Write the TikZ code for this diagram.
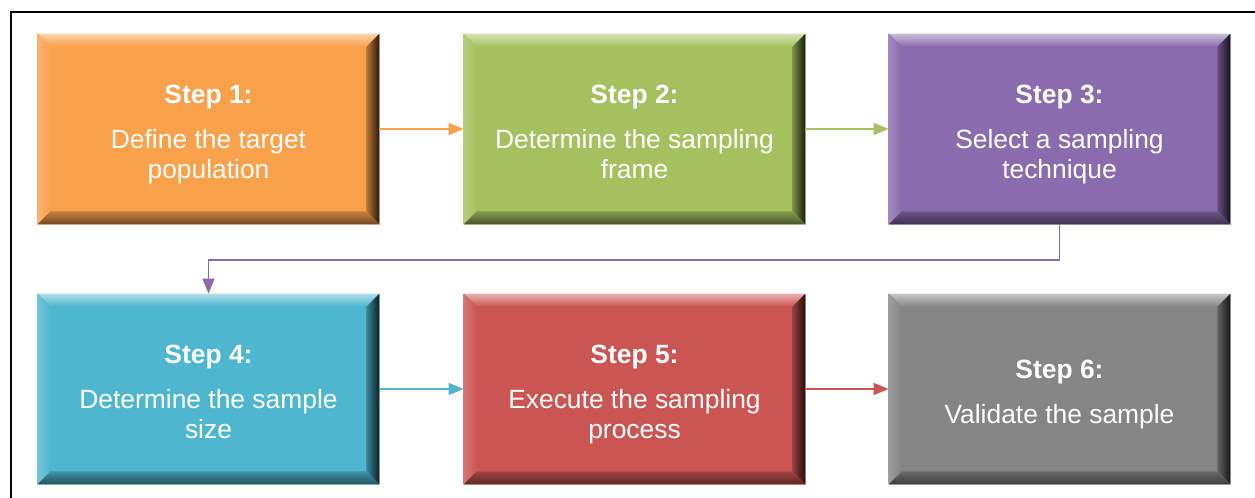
\documentclass[tikz,border=0pt]{standalone}
\usepackage{fontspec}
\setmainfont{Liberation Sans}
\usetikzlibrary{arrows.meta,calc}

\definecolor{cOrange}{HTML}{F9A04B}
\definecolor{cGreen}{HTML}{A5C15F}
\definecolor{cPurple}{HTML}{8A6BAD}
\definecolor{cBlue}{HTML}{4FB6D0}
\definecolor{cRed}{HTML}{CB5552}
\definecolor{cGrey}{HTML}{858585}

\tikzset{
  stepbox/.style={rectangle, minimum width=341bp, minimum height=190bp,
    inner sep=0pt, text=white, align=center,
    font=\fontsize{26.5}{30}\selectfont},
  flow/.style={line width=1.4bp, -{Triangle[length=15bp,width=12bp]}},
}

% bevelled box: #1 name, #2 centre, #3 colour, #4 text
\newcommand\bevelbox[4]{%
  \node[stepbox, fill=#3, draw=#3!45!white, line width=0.8bp] (#1) at #2 {};
  \def\bv{13bp}%
  % top bevel
  \shade[top color=#3!45!white, bottom color=#3]
    (#1.north west) -- (#1.north east)
    -- ([shift={(-\bv,-\bv)}]#1.north east) -- ([shift={(\bv,-\bv)}]#1.north west) -- cycle;
  % left bevel
  \shade[left color=#3!80!white, right color=#3]
    (#1.north west) -- ([shift={(\bv,-\bv)}]#1.north west)
    -- ([shift={(\bv,\bv)}]#1.south west) -- (#1.south west) -- cycle;
  % right bevel
  \shade[left color=#3!75!black, right color=#3!15!black]
    (#1.north east) -- (#1.south east)
    -- ([shift={(-\bv,\bv)}]#1.south east) -- ([shift={(-\bv,-\bv)}]#1.north east) -- cycle;
  % bottom bevel
  \shade[top color=#3!80!black, bottom color=#3!45!black]
    (#1.south west) -- (#1.south east)
    -- ([shift={(-\bv,\bv)}]#1.south east) -- ([shift={(\bv,\bv)}]#1.south west) -- cycle;
  \node[stepbox] at ([yshift=-7bp]#1.center) {#4\strut};
}

\begin{document}
\begin{tikzpicture}[x=1bp, y=-1bp]
  \useasboundingbox (0,0) rectangle (1255,498);
  \fill[white] (0,0) rectangle (1255,498);

  % outer frame
  \draw[line width=2.6bp] (11,520) -- (11,12) -- (1270,12);

  \bevelbox{s1}{(208.5,129)}{cOrange}{\textbf{Step 1:}\\[15bp]Define the target\\population}
  \bevelbox{s2}{(634.5,129)}{cGreen}{\textbf{Step 2:}\\[15bp]Determine the sampling\\frame}
  \bevelbox{s3}{(1059.5,129)}{cPurple}{\textbf{Step 3:}\\[15bp]Select a sampling\\technique}
  \bevelbox{s4}{(208.5,389)}{cBlue}{\textbf{Step 4:}\\[15bp]Determine the sample\\size}
  \bevelbox{s5}{(634.5,389)}{cRed}{\textbf{Step 5:}\\[15bp]Execute the sampling\\process}
  \bevelbox{s6}{(1059.5,389)}{cGrey}{\textbf{Step 6:}\\[15bp]Validate the sample}

  \coordinate (turn) at (634.5,260);

  \draw[flow, cOrange] (s1.east) -- (s2.west);
  \draw[flow, cGreen] (s2.east) -- (s3.west);
  \draw[flow, cPurple] (s3.south) |- (turn) -| (s4.north);
  \draw[flow, cBlue] (s4.east) -- (s5.west);
  \draw[flow, cRed] (s5.east) -- (s6.west);
\end{tikzpicture}
\end{document}
